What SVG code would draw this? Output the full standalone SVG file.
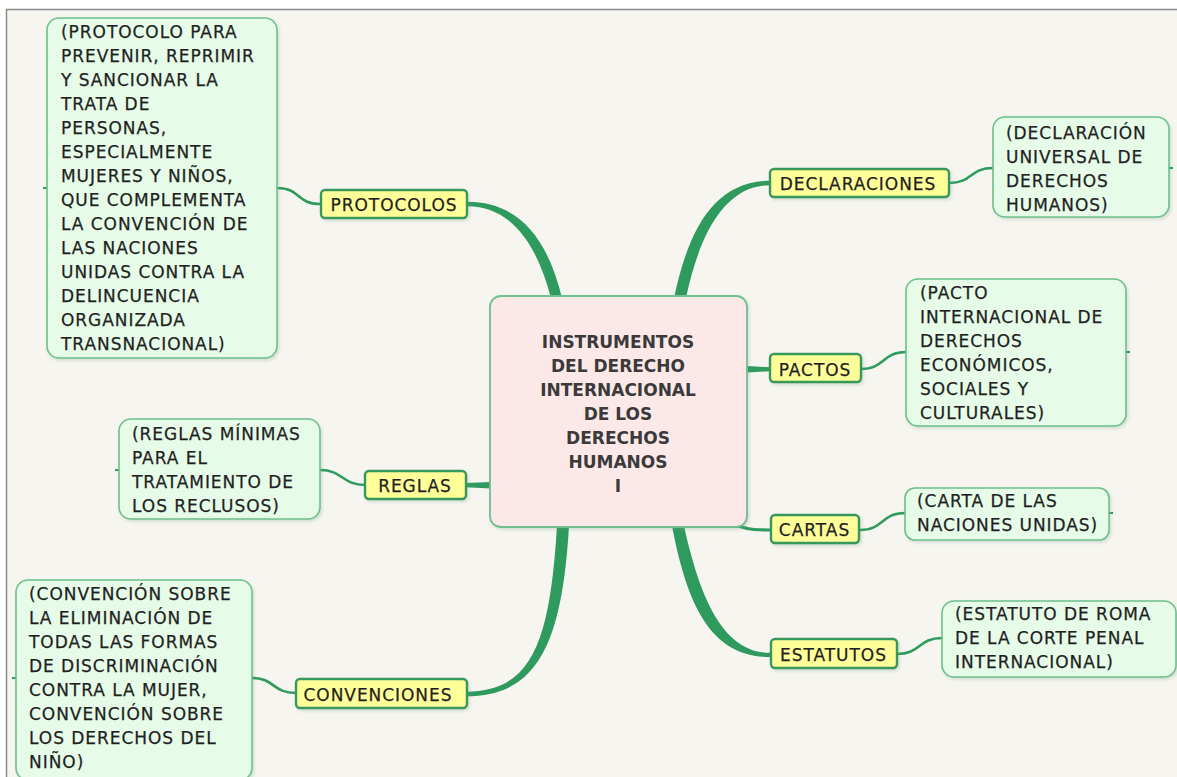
<svg xmlns="http://www.w3.org/2000/svg" width="1177" height="777" viewBox="0 0 1177 777">
<style>
.t{font-family:"DejaVu Sans",Verdana,sans-serif;font-size:17px;fill:#1f1f1f;letter-spacing:0.95px;stroke:#1f1f1f;stroke-width:0.25px}
.tb{font-family:"DejaVu Sans",Verdana,sans-serif;font-size:17px;font-weight:bold;fill:#3a3a3a;text-anchor:middle}
.lm{text-anchor:middle}
.leaf{fill:#e6fbe8;stroke:#6cc08b;stroke-width:1.6}
.lab{fill:#ffff99;stroke:#37975a;stroke-width:2.4}
.ctr{fill:#fde8e8;stroke:#6fbf8f;stroke-width:1.8}
.br{fill:#2f9a5e}
.ln{fill:none;stroke:#2f9a5e;stroke-width:2.6;stroke-linecap:round}
.stub{fill:none;stroke:#2f9a5e;stroke-width:2}
</style>
<defs>
<filter id="sh" x="-10%" y="-10%" width="130%" height="130%">
<feDropShadow dx="1.5" dy="2" stdDeviation="1.5" flood-color="#6a9a7a" flood-opacity="0.25"/>
</filter>
</defs>
<rect x="0" y="0" width="1177" height="777" fill="#ffffff"/>
<rect x="6" y="9" width="1171" height="768" fill="#f6f5ef"/>
<line x1="6" y1="9.5" x2="1177" y2="9.5" stroke="#8a8a8a" stroke-width="1.5"/>
<line x1="6.5" y1="9" x2="6.5" y2="777" stroke="#8a8a8a" stroke-width="1.5"/>

<g id="connectors">
<path class="br" d="M 467 201.8 C 520 201.8, 548 240, 562 298 L 551 298 C 537 245, 512 206.2, 467 206.2 Z"/>
<path class="br" d="M 770 180.8 C 713 180.8, 688 232, 674 298 L 686 298 C 699 236, 724 185.2, 770 185.2 Z"/>
<path class="br" d="M 466 691.8 C 533 691.8, 550 640, 557 526 L 569 526 C 562 645, 537 696.2, 466 696.2 Z"/>
<path class="br" d="M 770 657 C 713 657, 688 610, 672 526 L 684 526 C 701 603, 725 652.8, 770 652.8 Z"/>
<path class="br" d="M 747 366 L 770 367.3 L 770 371.3 L 747 372.5 Z"/>
<path class="br" d="M 465 483 L 491 482 L 491 488.5 L 465 487.3 Z"/>
<path class="ln" d="M 738 526 C 750 530, 758 530, 770 530" style="stroke-width:3.2"/>
<path class="ln" d="M 277 188 C 301 188, 296 204, 320 204"/>
<path class="ln" d="M 949 183 C 973 183, 969 168, 993 168"/>
<path class="ln" d="M 861 369 C 885 369, 882 352, 906 352"/>
<path class="ln" d="M 320 470 C 343 470, 342 485, 365 485"/>
<path class="ln" d="M 860 530 C 884 530, 881 513, 905 513"/>
<path class="ln" d="M 897 654 C 921 654, 918 638, 942 638"/>
<path class="ln" d="M 252 678 C 275 678, 272 693, 296 693"/>
<path class="stub" d="M 43 188 H 47"/>
<path class="stub" d="M 1169 168 H 1173"/>
<path class="stub" d="M 1126 352 H 1130"/>
<path class="stub" d="M 1109 513 H 1113"/>
<path class="stub" d="M 115 470 H 119"/>
<path class="stub" d="M 12 678 H 16"/>
</g>

<g id="central">
<rect class="ctr" x="490" y="296" width="257" height="231" rx="11" filter="url(#sh)"/>
<text class="tb" x="618" y="348">INSTRUMENTOS</text>
<text class="tb" x="618" y="372">DEL DERECHO</text>
<text class="tb" x="618" y="396">INTERNACIONAL</text>
<text class="tb" x="618" y="420">DE LOS</text>
<text class="tb" x="618" y="444">DERECHOS</text>
<text class="tb" x="618" y="468">HUMANOS</text>
<text class="tb" x="618" y="492">I</text>
</g>

<g id="protocolos">
<rect class="lab" x="321" y="190" width="146" height="28" rx="4" filter="url(#sh)"/>
<text class="t lm" x="394" y="211">PROTOCOLOS</text>
</g>
<g id="protocolos-leaf">
<rect class="leaf" x="47" y="18" width="230" height="340" rx="12" filter="url(#sh)"/>
<text class="t" x="61" y="38">(PROTOCOLO PARA</text>
<text class="t" x="61" y="62">PREVENIR, REPRIMIR</text>
<text class="t" x="61" y="86">Y SANCIONAR LA</text>
<text class="t" x="61" y="110">TRATA DE</text>
<text class="t" x="61" y="134">PERSONAS,</text>
<text class="t" x="61" y="158">ESPECIALMENTE</text>
<text class="t" x="61" y="182">MUJERES Y NIÑOS,</text>
<text class="t" x="61" y="206">QUE COMPLEMENTA</text>
<text class="t" x="61" y="230">LA CONVENCIÓN DE</text>
<text class="t" x="61" y="254">LAS NACIONES</text>
<text class="t" x="61" y="278">UNIDAS CONTRA LA</text>
<text class="t" x="61" y="302">DELINCUENCIA</text>
<text class="t" x="61" y="326">ORGANIZADA</text>
<text class="t" x="61" y="350">TRANSNACIONAL)</text>
</g>

<g id="declaraciones">
<rect class="lab" x="770" y="169" width="179" height="28" rx="4" filter="url(#sh)"/>
<text class="t lm" x="858" y="190">DECLARACIONES</text>
</g>
<g id="declaraciones-leaf">
<rect class="leaf" x="993" y="117" width="176" height="100" rx="12" filter="url(#sh)"/>
<text class="t" x="1006" y="139">(DECLARACIÓN</text>
<text class="t" x="1006" y="163">UNIVERSAL DE</text>
<text class="t" x="1006" y="187">DERECHOS</text>
<text class="t" x="1006" y="211">HUMANOS)</text>
</g>

<g id="pactos">
<rect class="lab" x="770" y="354" width="91" height="28" rx="4" filter="url(#sh)"/>
<text class="t lm" x="815" y="376">PACTOS</text>
</g>
<g id="pactos-leaf">
<rect class="leaf" x="906" y="279" width="220" height="147" rx="12" filter="url(#sh)"/>
<text class="t" x="920" y="299">(PACTO</text>
<text class="t" x="920" y="323">INTERNACIONAL DE</text>
<text class="t" x="920" y="347">DERECHOS</text>
<text class="t" x="920" y="371">ECONÓMICOS,</text>
<text class="t" x="920" y="395">SOCIALES Y</text>
<text class="t" x="920" y="419">CULTURALES)</text>
</g>

<g id="reglas">
<rect class="lab" x="365" y="471" width="101" height="28" rx="4" filter="url(#sh)"/>
<text class="t lm" x="415" y="492">REGLAS</text>
</g>
<g id="reglas-leaf">
<rect class="leaf" x="119" y="419" width="201" height="100" rx="12" filter="url(#sh)"/>
<text class="t" x="132" y="440">(REGLAS MÍNIMAS</text>
<text class="t" x="132" y="464">PARA EL</text>
<text class="t" x="132" y="488">TRATAMIENTO DE</text>
<text class="t" x="132" y="512">LOS RECLUSOS)</text>
</g>

<g id="cartas">
<rect class="lab" x="771" y="515" width="88" height="28" rx="4" filter="url(#sh)"/>
<text class="t lm" x="814.5" y="536">CARTAS</text>
</g>
<g id="cartas-leaf">
<rect class="leaf" x="905" y="488" width="204" height="52" rx="10" filter="url(#sh)"/>
<text class="t" x="917" y="507">(CARTA DE LAS</text>
<text class="t" x="917" y="531">NACIONES UNIDAS)</text>
</g>

<g id="estatutos">
<rect class="lab" x="771" y="639" width="126" height="29" rx="4" filter="url(#sh)"/>
<text class="t lm" x="833.5" y="661">ESTATUTOS</text>
</g>
<g id="estatutos-leaf">
<rect class="leaf" x="942" y="601" width="234" height="76" rx="12" filter="url(#sh)"/>
<text class="t" x="955" y="620">(ESTATUTO DE ROMA</text>
<text class="t" x="955" y="644">DE LA CORTE PENAL</text>
<text class="t" x="955" y="668">INTERNACIONAL)</text>
</g>

<g id="convenciones">
<rect class="lab" x="296" y="679" width="171" height="29" rx="4" filter="url(#sh)"/>
<text class="t lm" x="378" y="701">CONVENCIONES</text>
</g>
<g id="convenciones-leaf">
<rect class="leaf" x="16" y="580" width="236" height="200" rx="12" filter="url(#sh)"/>
<text class="t" x="29" y="600">(CONVENCIÓN SOBRE</text>
<text class="t" x="29" y="624">LA ELIMINACIÓN DE</text>
<text class="t" x="29" y="648">TODAS LAS FORMAS</text>
<text class="t" x="29" y="672">DE DISCRIMINACIÓN</text>
<text class="t" x="29" y="696">CONTRA LA MUJER,</text>
<text class="t" x="29" y="720">CONVENCIÓN SOBRE</text>
<text class="t" x="29" y="744">LOS DERECHOS DEL</text>
<text class="t" x="29" y="768">NIÑO)</text>
</g>
</svg>
